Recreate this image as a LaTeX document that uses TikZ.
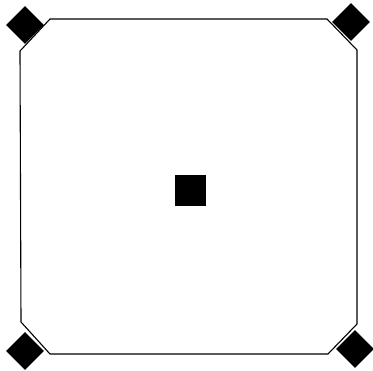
\documentclass[tikz,border=0pt]{standalone}
\usetikzlibrary{shapes.geometric}
\begin{document}
\begin{tikzpicture}[x=1pt,y=-1pt,
  corner/.style={diamond,fill=black,draw=none,minimum width=38pt,minimum height=38pt,inner sep=0pt},
  centersq/.style={rectangle,fill=black,draw=none,minimum size=31pt,inner sep=0pt},
  outline/.style={draw=black,line width=1.1pt,line join=round}]
\useasboundingbox (0,0) rectangle (373,371);
\coordinate (p1) at (50,19);
\coordinate (p2) at (327,19);
\coordinate (p3) at (357,50);
\coordinate (p4) at (357,324);
\coordinate (p5) at (328,354);
\coordinate (p6) at (50,354);
\coordinate (p7) at (21,322);
\coordinate (p8) at (20,51);
\draw[outline] (p1) -- (p2) -- (p3) -- (p4) -- (p5) -- (p6) -- (p7) -- (p8) -- cycle;
\node[corner] (tl) at (25,25) {};
\node[corner] (tr) at (351,22) {};
\node[corner] (bl) at (25,351) {};
\node[corner] (br) at (355,349) {};
\node[centersq] (c) at (190.5,190.5) {};
\end{tikzpicture}
\end{document}
